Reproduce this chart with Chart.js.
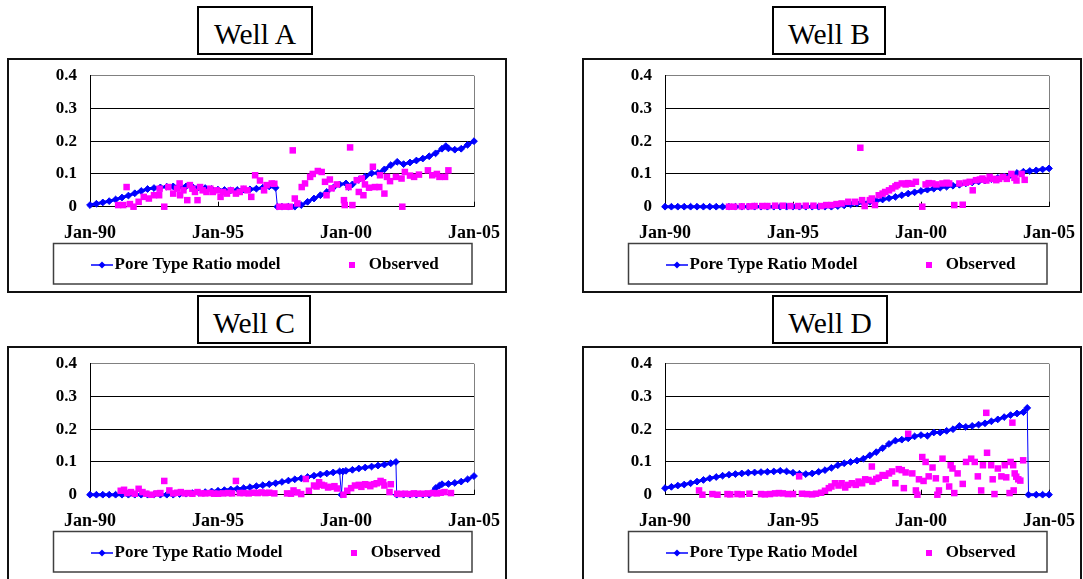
<!DOCTYPE html>
<html><head><meta charset="utf-8">
<script src="https://cdn.jsdelivr.net/npm/chart.js"></script>
<style>
html,body{margin:0;padding:0;background:#fff;}
body{width:1083px;height:579px;overflow:hidden;position:relative;}
.title{position:absolute;box-sizing:border-box;border:2px solid #000;height:49px;font-family:"Liberation Serif","Times New Roman",serif;font-size:29.5px;line-height:53px;text-align:center;color:#000;background:#fff;white-space:nowrap;}
.panel{position:absolute;box-sizing:border-box;border:2px solid #111;width:500px;height:235px;background:#fff;}
.panel canvas{position:absolute;left:0;top:0;}
</style></head><body>
<div class="panel" style="left:7px;top:58px"><canvas id="cA" width="496" height="231"></canvas></div>
<div class="panel" style="left:582px;top:58px"><canvas id="cB" width="496" height="231"></canvas></div>
<div class="panel" style="left:7px;top:346px"><canvas id="cC" width="496" height="231"></canvas></div>
<div class="panel" style="left:582px;top:346px"><canvas id="cD" width="496" height="231"></canvas></div>
<div class="title" style="left:197px;top:6px;width:116px">Well A</div>
<div class="title" style="left:772px;top:6px;width:114px">Well B</div>
<div class="title" style="left:197px;top:295px;width:114px">Well C</div>
<div class="title" style="left:772px;top:295px;width:116px">Well D</div>
<script>
// ---------- tick labels ----------
const xTickYears = [1990, 1995, 2000, 2005];
const xTickLabels = ['Jan-90', 'Jan-95', 'Jan-00', 'Jan-05'];
const yTicks = [0, 0.1, 0.2, 0.3, 0.4];
const yTickLabels = ['0', '0.1', '0.2', '0.3', '0.4'];
const modelLabels = ['Pore Type Ratio model', 'Pore Type Ratio Model', 'Pore Type Ratio Model', 'Pore Type Ratio Model'];
const observedLabel = 'Observed';

// ---------- series: [decimal year, ratio] ----------
const modelA = [[1990.00,0.005],[1990.25,0.009],[1990.50,0.013],[1990.75,0.017],[1991.00,0.022],[1991.25,0.028],[1991.50,0.034],[1991.75,0.041],[1992.00,0.048],[1992.25,0.054],[1992.50,0.057],[1992.75,0.059],[1993.00,0.061],[1993.25,0.062],[1993.50,0.063],[1993.75,0.062],[1994.00,0.061],[1994.25,0.059],[1994.50,0.057],[1994.75,0.054],[1995.00,0.052],[1995.25,0.051],[1995.50,0.050],[1995.75,0.051],[1996.00,0.052],[1996.25,0.053],[1996.50,0.055],[1996.75,0.058],[1997.00,0.062],[1997.25,0.058],[1997.32,0],[1997.50,0],[1997.75,0],[1998.00,0],[1998.25,0.005],[1998.50,0.015],[1998.75,0.025],[1999.00,0.035],[1999.25,0.045],[1999.50,0.058],[1999.75,0.068],[2000.00,0.071],[2000.10,0.060],[2000.25,0.068],[2000.50,0.082],[2000.75,0.092],[2001.00,0.102],[2001.25,0.103],[2001.50,0.114],[2001.75,0.127],[2002.00,0.137],[2002.25,0.130],[2002.50,0.135],[2002.75,0.141],[2003.00,0.147],[2003.25,0.154],[2003.50,0.163],[2003.75,0.177],[2003.90,0.185],[2004.00,0.178],[2004.25,0.174],[2004.50,0.177],[2004.75,0.189],[2005.00,0.200]];
const observedA = [[1991.1,0.005],[1991.3,0.005],[1991.43,0.06],[1991.56,0.008],[1991.7,0],[1991.9,0.015],[1992.1,0.03],[1992.3,0.025],[1992.5,0.035],[1992.7,0.035],[1992.72,0.055],[1992.9,0],[1993.06,0.06],[1993.25,0.04],[1993.4,0.055],[1993.5,0.071],[1993.52,0.035],[1993.65,0.05],[1993.8,0.02],[1993.9,0.066],[1994.0,0.055],[1994.1,0.045],[1994.2,0.02],[1994.3,0.06],[1994.4,0.05],[1994.55,0.045],[1994.7,0.055],[1994.8,0.045],[1994.95,0.05],[1995.1,0.03],[1995.2,0.045],[1995.35,0.04],[1995.5,0.05],[1995.7,0.04],[1995.85,0.045],[1996.0,0.055],[1996.15,0.05],[1996.3,0.03],[1996.45,0.096],[1996.64,0.08],[1996.8,0.05],[1996.9,0.066],[1997.1,0.071],[1997.2,0.07],[1997.4,0],[1997.6,0],[1997.8,0],[1997.92,0.172],[1998.0,0.025],[1998.1,0.01],[1998.27,0.06],[1998.4,0.071],[1998.6,0.091],[1998.7,0.10],[1998.9,0.109],[1999.05,0.106],[1999.18,0.076],[1999.24,0.035],[1999.37,0.083],[1999.44,0.056],[1999.64,0.068],[1999.92,0.02],[1999.95,0.005],[2000.1,0.06],[2000.16,0.181],[2000.25,0.005],[2000.42,0.081],[2000.5,0.045],[2000.62,0.086],[2000.68,0.035],[2000.74,0.068],[2000.9,0.058],[2001.05,0.122],[2001.13,0.06],[2001.3,0.06],[2001.33,0.096],[2001.5,0.04],[2001.6,0.091],[2001.72,0.078],[2001.95,0.091],[2002.17,0.086],[2002.2,0],[2002.3,0.106],[2002.5,0.095],[2002.66,0.091],[2002.85,0.098],[2003.2,0.111],[2003.37,0.096],[2003.55,0.10],[2003.65,0.091],[2003.87,0.091],[2004.0,0.111]];

const modelB = [[1990.00,0],[1990.25,0],[1990.50,0],[1990.75,0],[1991.00,0],[1991.25,0],[1991.50,0],[1991.75,0],[1992.00,0],[1992.25,0],[1992.50,0],[1992.75,0],[1993.00,0],[1993.25,0],[1993.50,0],[1993.75,0],[1994.00,0],[1994.25,0],[1994.50,0],[1994.75,0],[1995.00,0],[1995.25,0],[1995.50,0],[1995.75,0],[1996.00,0],[1996.25,0],[1996.50,0],[1996.75,0.002],[1997.00,0.004],[1997.25,0.007],[1997.50,0.010],[1997.75,0.012],[1998.00,0.015],[1998.25,0.018],[1998.50,0.022],[1998.75,0.026],[1999.00,0.030],[1999.25,0.035],[1999.50,0.040],[1999.75,0.044],[2000.00,0.048],[2000.25,0.052],[2000.50,0.055],[2000.75,0.058],[2001.00,0.061],[2001.25,0.064],[2001.50,0.067],[2001.75,0.071],[2002.00,0.074],[2002.25,0.077],[2002.50,0.080],[2002.75,0.084],[2003.00,0.088],[2003.25,0.092],[2003.50,0.097],[2003.75,0.103],[2004.00,0.107],[2004.25,0.109],[2004.50,0.111],[2004.75,0.114],[2005.00,0.117]];
const observedB = [[1992.5,0],[1992.7,0],[1993.0,0.001],[1993.3,0.001],[1993.5,0.002],[1993.8,0.002],[1994.0,0.002],[1994.3,0.003],[1994.6,0.003],[1994.9,0.002],[1995.2,0.002],[1995.5,0.003],[1995.8,0.003],[1996.1,0.002],[1996.3,0.005],[1996.5,0.005],[1996.7,0.008],[1996.9,0.01],[1997.16,0.015],[1997.43,0.015],[1997.63,0.18],[1997.7,0.02],[1997.8,0.002],[1998.0,0.02],[1998.08,0.025],[1998.2,0.005],[1998.35,0.035],[1998.5,0.04],[1998.6,0.045],[1998.75,0.05],[1998.87,0.056],[1999.0,0.062],[1999.07,0.066],[1999.25,0.071],[1999.4,0.068],[1999.5,0.072],[1999.65,0.07],[1999.8,0.076],[2000.05,0],[2000.18,0.068],[2000.3,0.072],[2000.44,0.071],[2000.6,0.068],[2000.84,0.071],[2001.0,0.073],[2001.1,0.071],[2001.3,0.005],[2001.5,0.071],[2001.63,0.006],[2001.75,0.073],[2001.9,0.076],[2002.02,0.05],[2002.15,0.081],[2002.3,0.083],[2002.4,0.086],[2002.55,0.08],[2002.68,0.091],[2002.8,0.085],[2002.94,0.081],[2003.05,0.085],[2003.2,0.091],[2003.35,0.085],[2003.53,0.1],[2003.65,0.088],[2003.73,0.08],[2003.93,0.1],[2004.05,0.082]];

const modelC = [[1990.00,0],[1990.25,0],[1990.50,0],[1990.75,0],[1991.00,0],[1991.25,0],[1991.50,0],[1991.75,0],[1992.00,0],[1992.25,0],[1992.50,0],[1992.75,0],[1993.00,0],[1993.25,0],[1993.50,0.002],[1993.75,0.003],[1994.00,0.005],[1994.25,0.006],[1994.50,0.008],[1994.75,0.010],[1995.00,0.012],[1995.25,0.014],[1995.50,0.016],[1995.75,0.018],[1996.00,0.020],[1996.25,0.023],[1996.50,0.026],[1996.75,0.029],[1997.00,0.032],[1997.25,0.035],[1997.50,0.039],[1997.75,0.043],[1998.00,0.047],[1998.25,0.050],[1998.50,0.054],[1998.75,0.058],[1999.00,0.062],[1999.25,0.065],[1999.50,0.068],[1999.75,0.071],[1999.82,0],[1999.88,0.071],[2000.00,0.073],[2000.25,0.076],[2000.50,0.080],[2000.75,0.083],[2001.00,0.086],[2001.25,0.089],[2001.50,0.092],[2001.75,0.096],[2001.95,0.100],[2001.98,0],[2002.25,0],[2002.50,0],[2002.75,0],[2003.00,0],[2003.25,0],[2003.40,0.008],[2003.50,0.020],[2003.65,0.028],[2003.75,0.032],[2004.00,0.033],[2004.25,0.036],[2004.50,0.040],[2004.75,0.047],[2005.00,0.057]];
const observedC = [[1991.2,0.012],[1991.33,0.015],[1991.45,0.005],[1991.6,0.008],[1991.75,0.003],[1991.9,0.018],[1992.05,0.008],[1992.2,0.003],[1992.4,0],[1992.6,0.004],[1992.75,0.005],[1992.9,0.042],[1993.1,0.013],[1993.25,0.004],[1993.4,0.006],[1993.55,0.008],[1993.7,0.004],[1993.85,0.005],[1994.0,0.003],[1994.2,0.008],[1994.35,0.004],[1994.5,0.004],[1994.7,0.005],[1994.85,0.003],[1995.0,0.003],[1995.2,0.004],[1995.4,0.005],[1995.55,0.004],[1995.7,0.042],[1995.85,0.005],[1996.0,0.005],[1996.2,0.004],[1996.4,0.006],[1996.55,0.005],[1996.7,0.007],[1996.85,0.005],[1997.0,0.006],[1997.2,0.004],[1997.7,0.004],[1997.85,0.003],[1997.95,0.013],[1998.1,0.007],[1998.25,0.002],[1998.43,0.048],[1998.55,0.012],[1998.75,0.028],[1998.85,0.025],[1998.95,0.038],[1999.05,0.03],[1999.15,0.028],[1999.3,0.022],[1999.4,0.024],[1999.55,0.026],[1999.65,0.019],[1999.9,0],[2000.05,0.012],[2000.2,0.02],[2000.35,0.028],[2000.5,0.03],[2000.6,0.024],[2000.75,0.032],[2000.85,0.03],[2000.95,0.026],[2001.1,0.032],[2001.2,0.035],[2001.35,0.042],[2001.45,0.038],[2001.5,0.028],[2001.7,0.008],[2001.75,0.032],[2002.0,0.003],[2002.15,0.002],[2002.3,0.003],[2002.5,0.002],[2002.65,0.004],[2002.8,0.003],[2003.0,0.003],[2003.2,0.004],[2003.4,0.005],[2003.55,0.004],[2003.7,0.006],[2003.85,0.008],[2004.1,0.005]];

const modelD = [[1990.00,0.020],[1990.25,0.024],[1990.50,0.028],[1990.75,0.031],[1991.00,0.035],[1991.25,0.040],[1991.50,0.045],[1991.75,0.050],[1992.00,0.054],[1992.25,0.058],[1992.50,0.061],[1992.75,0.063],[1993.00,0.065],[1993.25,0.067],[1993.50,0.068],[1993.75,0.069],[1994.00,0.070],[1994.25,0.071],[1994.50,0.073],[1994.75,0.071],[1995.00,0.067],[1995.25,0.064],[1995.50,0.063],[1995.75,0.065],[1996.00,0.070],[1996.25,0.075],[1996.50,0.082],[1996.75,0.090],[1997.00,0.096],[1997.25,0.100],[1997.50,0.104],[1997.75,0.110],[1998.00,0.120],[1998.25,0.130],[1998.50,0.142],[1998.75,0.155],[1999.00,0.165],[1999.25,0.168],[1999.50,0.172],[1999.75,0.178],[2000.00,0.182],[2000.25,0.180],[2000.50,0.190],[2000.75,0.190],[2001.00,0.195],[2001.25,0.200],[2001.50,0.210],[2001.75,0.207],[2002.00,0.210],[2002.25,0.214],[2002.50,0.218],[2002.75,0.224],[2003.00,0.230],[2003.25,0.237],[2003.50,0.243],[2003.75,0.248],[2004.00,0.252],[2004.15,0.265],[2004.20,0],[2004.50,0],[2004.75,0],[2005.00,0]];
const observedD = [[1991.33,0.013],[1991.46,0],[1991.85,0.002],[1992.05,0],[1992.44,0.002],[1992.55,0.001],[1992.83,0.002],[1993.0,0.001],[1993.3,0.003],[1993.75,0.002],[1993.9,0.001],[1994.1,0.002],[1994.3,0.004],[1994.45,0.005],[1994.6,0.004],[1994.8,0.002],[1995.0,0.002],[1995.24,0.056],[1995.35,0.003],[1995.55,0.002],[1995.75,0.001],[1995.9,0.003],[1996.1,0.006],[1996.25,0.012],[1996.4,0.02],[1996.5,0.025],[1996.64,0.035],[1996.78,0.028],[1996.9,0.035],[1997.04,0.022],[1997.15,0.03],[1997.3,0.035],[1997.45,0.03],[1997.56,0.04],[1997.7,0.035],[1997.82,0.047],[1997.95,0.045],[1998.08,0.086],[1998.1,0.04],[1998.25,0.048],[1998.35,0.052],[1998.5,0.06],[1998.6,0.058],[1998.75,0.065],[1998.87,0.071],[1999.0,0.035],[1999.13,0.078],[1999.25,0.075],[1999.33,0.02],[1999.4,0.068],[1999.5,0.186],[1999.66,0.065],[1999.8,0.013],[1999.86,0],[1999.92,0.047],[2000.05,0.115],[2000.1,0.042],[2000.18,0.10],[2000.3,0.056],[2000.45,0.083],[2000.58,0.05],[2000.64,0],[2000.7,0.013],[2000.84,0.11],[2000.97,0.047],[2001.1,0.025],[2001.16,0.09],[2001.23,0.08],[2001.3,0.005],[2001.43,0.065],[2001.63,0.033],[2001.76,0.10],[2001.96,0.11],[2002.1,0.10],[2002.22,0.056],[2002.35,0.013],[2002.42,0.09],[2002.55,0.25],[2002.58,0.128],[2002.74,0.09],[2002.8,0.047],[2002.87,0.002],[2003.0,0.08],[2003.14,0.056],[2003.27,0.09],[2003.33,0.053],[2003.46,0.005],[2003.5,0.10],[2003.57,0.22],[2003.6,0.09],[2003.62,0.013],[2003.66,0.065],[2003.72,0.055],[2003.8,0.047],[2003.88,0.043],[2003.99,0.105]];

// ---------- styling ----------
const BLUE = 'rgb(0,0,255)';
const MAGENTA = 'rgb(255,0,255)';
const SERIF = "'Liberation Serif','Times New Roman',serif";

function lineIcon() {
  const c = document.createElement('canvas');
  c.width = 44; c.height = 10;
  const g = c.getContext('2d');
  g.strokeStyle = BLUE; g.lineWidth = 1.5;
  g.beginPath(); g.moveTo(15, 5); g.lineTo(37, 5); g.stroke();
  g.fillStyle = BLUE;
  g.beginPath(); g.moveTo(26, 1.5); g.lineTo(29.5, 5); g.lineTo(26, 8.5); g.lineTo(22.5, 5); g.closePath(); g.fill();
  return c;
}
function squareIcon() {
  const c = document.createElement('canvas');
  c.width = 6; c.height = 6;
  const g = c.getContext('2d');
  g.fillStyle = MAGENTA; g.fillRect(0, 0, 6, 6);
  return c;
}

const framePlugin = {
  id: 'frame',
  beforeDatasetsDraw(chart) {
    const {ctx, chartArea: a} = chart;
    const xs = chart.scales.x;
    ctx.save();
    // grey right edge of the plot area
    ctx.strokeStyle = '#808080'; ctx.lineWidth = 1;
    const xr = Math.round(a.right) + 0.5;
    ctx.beginPath(); ctx.moveTo(xr, a.top); ctx.lineTo(xr, a.bottom); ctx.stroke();
    // short inward tick marks on the x axis
    ctx.strokeStyle = '#000';
    xs.ticks.forEach(t => {
      const px = Math.round(xs.getPixelForValue(t.value)) + 0.5;
      ctx.beginPath(); ctx.moveTo(px, a.bottom); ctx.lineTo(px, a.bottom - 5); ctx.stroke();
    });
    ctx.restore();
  },
  afterDraw(chart, args, opts) {
    const {ctx} = chart;
    const b = opts.box;
    ctx.save();
    ctx.strokeStyle = '#404040'; ctx.lineWidth = 1.5;
    ctx.strokeRect(b.left, b.top, b.right - b.left, b.bottom - b.top);
    ctx.restore();
  }
};

function xLabel(v) {
  const i = xTickYears.findIndex(y => Math.abs(y - v) < 1e-6);
  return i >= 0 ? xTickLabels[i] : '';
}
function yLabel(v) {
  const i = yTicks.findIndex(y => Math.abs(y - v) < 1e-6);
  return i >= 0 ? yTickLabels[i] : '';
}
const toXY = arr => arr.map(p => ({x: p[0], y: p[1]}));

function makePanel(id, model, observed, modelLabel) {
  const lIcon = lineIcon(), sIcon = squareIcon();
  new Chart(document.getElementById(id), {
    type: 'scatter',
    data: {
      datasets: [
        { label: modelLabel, data: toXY(model), showLine: true, order: 1, clip: false,
          borderColor: BLUE, borderWidth: 3, tension: 0,
          segment: { borderWidth: c => Math.abs(c.p1.parsed.y - c.p0.parsed.y) > 0.03 ? 1 : 3 },
          pointStyle: 'rectRot', pointRadius: 3.4, pointHoverRadius: 3.4,
          pointBackgroundColor: BLUE, pointBorderColor: BLUE, pointBorderWidth: 1 },
        { label: observedLabel, data: toXY(observed), showLine: false, order: 0, clip: false,
          pointStyle: 'rect', pointRadius: 4.6, pointHoverRadius: 4.6,
          pointBackgroundColor: MAGENTA, pointBorderColor: MAGENTA, pointBorderWidth: 0 }
      ]
    },
    options: {
      responsive: false, animation: false, devicePixelRatio: 1,
      events: [],
      layout: { padding: { left: 20, right: 31, top: 15.7, bottom: 7.5 } },
      plugins: {
        tooltip: { enabled: false },
        frame: { box: { left: 44.5, right: 463, top: 183.5, bottom: 224 } },
        legend: {
          display: true, position: 'bottom', align: 'start', fullSize: false,
          labels: {
            usePointStyle: true, pointStyleWidth: 16, padding: 0, color: '#000',
            font: { family: SERIF, size: 17, weight: 'bold' },
            generateLabels: () => [
              { text: modelLabel + '\u00A0'.repeat(15), pointStyle: lIcon, fillStyle: BLUE, strokeStyle: BLUE, lineWidth: 0, hidden: false, datasetIndex: 0, fontColor: '#000' },
              { text: observedLabel, pointStyle: sIcon, fillStyle: MAGENTA, strokeStyle: MAGENTA, lineWidth: 0, hidden: false, datasetIndex: 1, fontColor: '#000' }
            ]
          }
        }
      },
      scales: {
        x: {
          type: 'linear', min: 1990, max: 2005,
          afterFit: s => { s.height = 49.8; },
          ticks: { stepSize: 5, autoSkip: false, maxRotation: 0, minRotation: 0, padding: 0, color: '#000',
                   font: { family: SERIF, size: 18, weight: 'bold' }, callback: v => xLabel(v) },
          grid: { drawOnChartArea: false, drawTicks: true, tickLength: 15.5, tickColor: 'rgba(0,0,0,0)', color: '#000', lineWidth: 1 },
          border: { color: '#000', width: 1 }
        },
        y: {
          min: 0, max: 0.4,
          afterFit: s => { s.width = 61; },
          ticks: { stepSize: 0.1, padding: 0, color: '#000',
                   font: { family: SERIF, size: 17, weight: 'bold' }, callback: v => yLabel(v) },
          grid: { drawTicks: true, tickLength: 13, tickColor: 'rgba(0,0,0,0)', lineWidth: 1,
                  color: c => (c.tick && Math.abs(c.tick.value - 0.4) < 1e-6) ? '#808080' : '#000' },
          border: { color: '#000', width: 1 }
        }
      }
    },
    plugins: [framePlugin]
  });
}

makePanel('cA', modelA, observedA, modelLabels[0]);
makePanel('cB', modelB, observedB, modelLabels[1]);
makePanel('cC', modelC, observedC, modelLabels[2]);
makePanel('cD', modelD, observedD, modelLabels[3]);
</script>
</body></html>
